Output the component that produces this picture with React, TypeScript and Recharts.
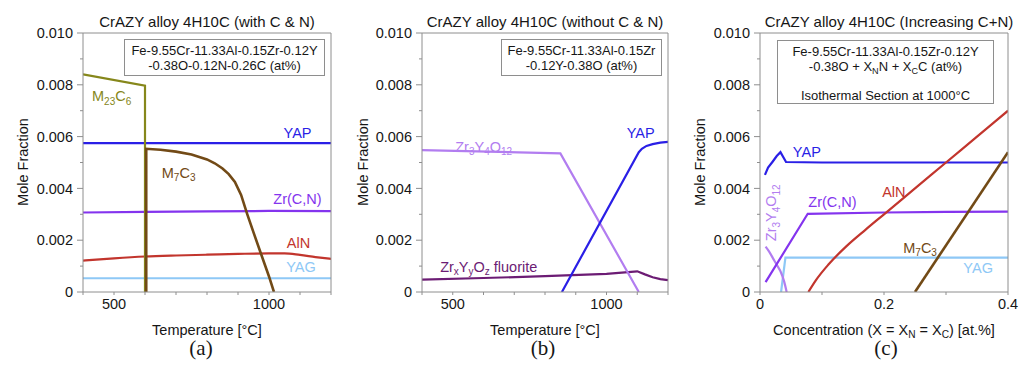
import React from "react";
import { LineChart, Line, XAxis, YAxis, ReferenceDot } from "recharts";

const FONT = '"Liberation Sans", Arial, Helvetica, sans-serif';
const SERIF = '"Liberation Serif", "Times New Roman", serif';
const AXIS = "#8e8e8e";
const INK = "#161616";

const OLIVE = "#86871b";
const BROWN = "#724a16";
const BLUE = "#2a1fe6";
const VIOLET = "#8434ee";
const RED = "#c2352d";
const SKY = "#8ec8f6";
const LILAC = "#b27df0";
const PLUM = "#6c1c74";

// shared axes
const moleTicks = [0, 0.001, 0.002, 0.003, 0.004, 0.005, 0.006, 0.007, 0.008, 0.009, 0.01];
const tempTicks = [400, 500, 600, 700, 800, 900, 1000, 1100, 1200];
const tempLabels = [500, 1000];
const concTicks = [0, 0.1, 0.2, 0.3, 0.4];
const concLabels = [0, 0.2, 0.4];

// (a) with C & N  (x = temperature °C)
const aM23C6T = [400, 600, 600];
const aM23C6 = [0.0084, 0.00797, 0];
const aM7C3T = [604, 604, 650, 700, 750, 800, 825, 850, 870, 890, 910, 930, 950, 975, 1000, 1016];
const aM7C3 = [0, 0.00553, 0.00549, 0.00542, 0.00531, 0.00512, 0.00497, 0.00477, 0.00455, 0.00425, 0.00375, 0.003, 0.0023, 0.00145, 0.0006, 0];
const aYAPT = [400, 1200];
const aYAP = [0.00575, 0.00575];
const aZrCNT = [400, 600, 800, 1000, 1200];
const aZrCN = [0.00307, 0.00309, 0.00311, 0.00313, 0.00312];
const aAlNT = [400, 500, 600, 700, 800, 900, 1000, 1050, 1100, 1150, 1200];
const aAlN = [0.00121, 0.0013, 0.00137, 0.00141, 0.00144, 0.00147, 0.00149, 0.00149, 0.00143, 0.00135, 0.00128];
const aYAGT = [400, 1200];
const aYAG = [0.00053, 0.00053];

// (b) without C & N
const bZr3Y4O12T = [400, 850, 1105];
const bZr3Y4O12 = [0.00548, 0.00535, 0];
const bYAPT = [855, 1105, 1115, 1130, 1150, 1175, 1200];
const bYAP = [0, 0.0054, 0.00553, 0.00564, 0.00571, 0.00577, 0.0058];
const bFluoriteT = [400, 600, 800, 1000, 1050, 1100, 1125, 1150, 1175, 1200];
const bFluorite = [0.00048, 0.00054, 0.00061, 0.0007, 0.00075, 0.0008, 0.00068, 0.00057, 0.0005, 0.00046];

// (c) increasing C+N at 1000 °C  (x = at.%)
const cYAPX = [0.008, 0.013, 0.02, 0.027, 0.033, 0.042, 0.1, 0.2, 0.3, 0.4];
const cYAP = [0.00452, 0.0048, 0.00502, 0.00525, 0.0054, 0.00502, 0.005, 0.005, 0.005, 0.005];
const cZr3Y4O12X = [0.009, 0.015, 0.021, 0.027, 0.033, 0.039, 0.043];
const cZr3Y4O12 = [0.00175, 0.00155, 0.0013, 0.00105, 0.0008, 0.0004, 0];
const cZrCNX = [0.009, 0.077, 0.2, 0.3, 0.4];
const cZrCN = [0.00038, 0.00302, 0.00307, 0.00309, 0.0031];
const cYAGX = [0.034, 0.041, 0.2, 0.4];
const cYAG = [0, 0.00133, 0.00133, 0.00133];
const cAlNX = [0.078, 0.09, 0.11, 0.14, 0.17, 0.2, 0.25, 0.3, 0.35, 0.4];
const cAlN = [0, 0.00045, 0.00105, 0.00178, 0.0024, 0.003, 0.004, 0.005, 0.006, 0.007];
const cM7C3X = [0.25, 0.4];
const cM7C3 = [0, 0.0054];

const zip = (xs: number[], ys: number[]) => xs.map((x, i) => ({ x, y: ys[i] }));

type Series = { name: string; xs: number[]; ys: number[]; color: string; w?: number; smooth?: boolean };
type Tag = { text: string; x: number; y: number; color: string; anchor?: "start" | "middle" | "end"; rotate?: boolean };

function ChemText({ cx, cy, tag }: { cx: number; cy: number; tag: Tag }) {
  const parts = tag.text.split(/_\{([^}]*)\}/);
  let shift = 0;
  const spans = parts.map((p, i) => {
    if (!p) return null;
    const isSub = i % 2 === 1;
    const target = isSub ? 3.5 : 0;
    const dy = target - shift;
    shift = target;
    return (
      <tspan key={i} dy={dy} fontSize={isSub ? 10 : 14.5}>
        {p}
      </tspan>
    );
  });
  return (
    <text
      x={cx}
      y={cy + 5}
      textAnchor={tag.anchor ?? "start"}
      fill={tag.color}
      fontFamily={FONT}
      fontSize={14.5}
      transform={tag.rotate ? `rotate(-90 ${cx} ${cy})` : undefined}
    >
      {spans}
    </text>
  );
}

function YTick(props: any) {
  const { x, y, payload } = props;
  const v = payload.value as number;
  const major = Math.round(v * 1000) % 2 === 0;
  return (
    <g>
      <line x1={x + (major ? 4 : 7)} x2={x + 10} y1={y} y2={y} stroke={AXIS} />
      {major && (
        <text x={x} y={y} dy="0.355em" textAnchor="end" fill={INK} fontSize={14.5} fontFamily={FONT}>
          {v === 0 ? "0" : v.toFixed(3)}
        </text>
      )}
    </g>
  );
}

function Panel(props: {
  width: number;
  ml: number;
  mr: number;
  domain: [number, number];
  ticks: number[];
  labels: number[];
  series: Series[];
  tags: Tag[];
}) {
  const { width, ml, mr, domain, ticks, labels, series, tags } = props;
  return (
    <LineChart width={width} height={379} margin={{ top: 33, right: mr, bottom: 57, left: ml }}>
      <XAxis
        type="number"
        dataKey="x"
        domain={domain}
        ticks={ticks}
        interval={0}
        allowDataOverflow
        height={30}
        tickSize={3}
        tickMargin={4}
        stroke={AXIS}
        tick={{ fill: INK, fontSize: 14.5, fontFamily: FONT }}
        tickFormatter={(v: number) => (labels.includes(v) ? String(v) : "")}
      />
      <XAxis
        xAxisId="top"
        orientation="top"
        type="number"
        domain={domain}
        ticks={ticks}
        interval={0}
        allowDataOverflow
        mirror
        height={1}
        tick={false}
        tickSize={3}
        stroke={AXIS}
      />
      <YAxis
        type="number"
        domain={[0, 0.01]}
        ticks={moleTicks}
        interval={0}
        allowDataOverflow
        width={61}
        tickLine={false}
        tickSize={6}
        tickMargin={4}
        stroke={AXIS}
        tick={<YTick />}
      />
      <YAxis
        yAxisId="right"
        orientation="right"
        type="number"
        domain={[0, 0.01]}
        ticks={moleTicks}
        interval={0}
        allowDataOverflow
        mirror
        width={1}
        tick={false}
        tickSize={3}
        stroke={AXIS}
      />
      {series.map((s) => (
        <Line
          key={s.name}
          name={s.name}
          data={zip(s.xs, s.ys)}
          dataKey="y"
          type={s.smooth ? "monotone" : "linear"}
          stroke={s.color}
          strokeWidth={s.w ?? 2.2}
          dot={false}
          activeDot={false}
          isAnimationActive={false}
        />
      ))}
      {tags.map((t, i) => (
        <ReferenceDot
          key={i}
          x={t.x}
          y={t.y}
          r={0}
          shape={(p: any) => <ChemText cx={p.cx} cy={p.cy} tag={t} />}
        />
      ))}
    </LineChart>
  );
}

const abs = (extra: React.CSSProperties): React.CSSProperties => ({
  position: "absolute",
  fontFamily: FONT,
  color: INK,
  whiteSpace: "nowrap",
  ...extra,
});

function Title({ cx, text }: { cx: number; text: string }) {
  return <div style={abs({ left: cx - 160, width: 320, top: 13, textAlign: "center", fontSize: 15, lineHeight: "17px" })}>{text}</div>;
}

function YLabel({ cx }: { cx: number }) {
  return (
    <div
      style={abs({
        left: cx - 100,
        width: 200,
        top: 153,
        textAlign: "center",
        fontSize: 14.5,
        lineHeight: "18px",
        transform: "rotate(-90deg)",
      })}
    >
      Mole Fraction
    </div>
  );
}

function XLabel({ cx, children }: { cx: number; children: React.ReactNode }) {
  return <div style={abs({ left: cx - 160, width: 320, top: 321, textAlign: "center", fontSize: 14.5, lineHeight: "18px" })}>{children}</div>;
}

function Letter({ cx, text }: { cx: number; text: string }) {
  return <div style={abs({ left: cx - 30, width: 60, top: 335, textAlign: "center", fontSize: 21, lineHeight: "26px", fontFamily: SERIF })}>{text}</div>;
}

function Box({ left, top, width, height, children }: { left: number; top: number; width: number; height: number; children: React.ReactNode }) {
  return (
    <div
      style={abs({
        left,
        top,
        width,
        height,
        boxSizing: "border-box",
        border: `1px solid ${AXIS}`,
        background: "#fff",
        textAlign: "center",
        fontSize: 13,
        lineHeight: "15px",
        paddingTop: 3,
      })}
    >
      {children}
    </div>
  );
}

const Sub = ({ children }: { children: React.ReactNode }) => (
  <span style={{ fontSize: "0.7em", position: "relative", top: "0.3em" }}>{children}</span>
);

export default function App() {
  const panelA: Series[] = [
    { name: "YAG", xs: aYAGT, ys: aYAG, color: SKY },
    { name: "AlN", xs: aAlNT, ys: aAlN, color: RED, smooth: true },
    { name: "Zr(C,N)", xs: aZrCNT, ys: aZrCN, color: VIOLET },
    { name: "YAP", xs: aYAPT, ys: aYAP, color: BLUE },
    { name: "M23C6", xs: aM23C6T, ys: aM23C6, color: OLIVE },
    { name: "M7C3", xs: aM7C3T, ys: aM7C3, color: BROWN, w: 2.6 },
  ];
  const tagsA: Tag[] = [
    { text: "M_{23}C_{6}", x: 429, y: 0.00755, color: OLIVE },
    { text: "YAP", x: 1092, y: 0.00615, color: BLUE, anchor: "middle" },
    { text: "M_{7}C_{3}", x: 654, y: 0.0046, color: BROWN },
    { text: "Zr(C,N)", x: 1092, y: 0.0036, color: VIOLET, anchor: "middle" },
    { text: "AlN", x: 1095, y: 0.0019, color: RED, anchor: "middle" },
    { text: "YAG", x: 1103, y: 0.00097, color: SKY, anchor: "middle" },
  ];

  const panelB: Series[] = [
    { name: "fluorite", xs: bFluoriteT, ys: bFluorite, color: PLUM },
    { name: "Zr3Y4O12", xs: bZr3Y4O12T, ys: bZr3Y4O12, color: LILAC },
    { name: "YAP", xs: bYAPT, ys: bYAP, color: BLUE },
  ];
  const tagsB: Tag[] = [
    { text: "Zr_{3}Y_{4}O_{12}", x: 508, y: 0.00561, color: LILAC },
    { text: "YAP", x: 1111, y: 0.00615, color: BLUE, anchor: "middle" },
    { text: "Zr_{x}Y_{y}O_{z} fluorite", x: 459, y: 0.00097, color: PLUM },
  ];

  const panelC: Series[] = [
    { name: "YAG", xs: cYAGX, ys: cYAG, color: SKY },
    { name: "Zr3Y4O12", xs: cZr3Y4O12X, ys: cZr3Y4O12, color: LILAC, smooth: true },
    { name: "Zr(C,N)", xs: cZrCNX, ys: cZrCN, color: VIOLET },
    { name: "YAP", xs: cYAPX, ys: cYAP, color: BLUE },
    { name: "AlN", xs: cAlNX, ys: cAlN, color: RED, smooth: true },
    { name: "M7C3", xs: cM7C3X, ys: cM7C3, color: BROWN, w: 2.6 },
  ];
  const tagsC: Tag[] = [
    { text: "YAP", x: 0.053, y: 0.00542, color: BLUE },
    { text: "AlN", x: 0.197, y: 0.00387, color: RED },
    { text: "Zr(C,N)", x: 0.078, y: 0.00348, color: VIOLET },
    { text: "M_{7}C_{3}", x: 0.231, y: 0.0017, color: BROWN },
    { text: "YAG", x: 0.328, y: 0.00093, color: SKY },
    { text: "Zr_{3}Y_{4}O_{12}", x: 0.018, y: 0.00306, color: LILAC, anchor: "middle", rotate: true },
  ];

  return (
    <div style={{ position: "absolute", left: 0, top: 0, width: 1027, height: 379, background: "#fff", overflow: "hidden" }}>
      <div style={{ position: "absolute", left: 0, top: 0 }}>
        <Panel width={345} ml={22} mr={14} domain={[400, 1200]} ticks={tempTicks} labels={tempLabels} series={panelA} tags={tagsA} />
      </div>
      <div style={{ position: "absolute", left: 340, top: 0 }}>
        <Panel width={345} ml={21} mr={17} domain={[400, 1200]} ticks={tempTicks} labels={tempLabels} series={panelB} tags={tagsB} />
      </div>
      <div style={{ position: "absolute", left: 680, top: 0 }}>
        <Panel width={347} ml={19} mr={19} domain={[0, 0.4]} ticks={concTicks} labels={concLabels} series={panelC} tags={tagsC} />
      </div>

      <Title cx={207} text="CrAZY alloy 4H10C (with C & N)" />
      <Title cx={545} text="CrAZY alloy 4H10C (without C & N)" />
      <Title cx={889} text="CrAZY alloy 4H10C (Increasing C+N)" />

      <YLabel cx={23} />
      <YLabel cx={363} />
      <YLabel cx={700} />

      <XLabel cx={207}>Temperature [°C]</XLabel>
      <XLabel cx={545}>Temperature [°C]</XLabel>
      <XLabel cx={884}>
        Concentration (X = X<Sub>N</Sub> = X<Sub>C</Sub>) [at.%]
      </XLabel>

      <Letter cx={201} text="(a)" />
      <Letter cx={543} text="(b)" />
      <Letter cx={886} text="(c)" />

      <Box left={124} top={39} width={201} height={37}>
        <div>Fe-9.55Cr-11.33Al-0.15Zr-0.12Y</div>
        <div>-0.38O-0.12N-0.26C (at%)</div>
      </Box>
      <Box left={501} top={39} width={161} height={37}>
        <div>Fe-9.55Cr-11.33Al-0.15Zr</div>
        <div>-0.12Y-0.38O (at%)</div>
      </Box>
      <Box left={777} top={40} width={217} height={64}>
        <div>Fe-9.55Cr-11.33Al-0.15Zr-0.12Y</div>
        <div>
          -0.38O + X<Sub>N</Sub>N + X<Sub>C</Sub>C (at%)
        </div>
        <div style={{ marginTop: 12 }}>Isothermal Section at 1000°C</div>
      </Box>
    </div>
  );
}
